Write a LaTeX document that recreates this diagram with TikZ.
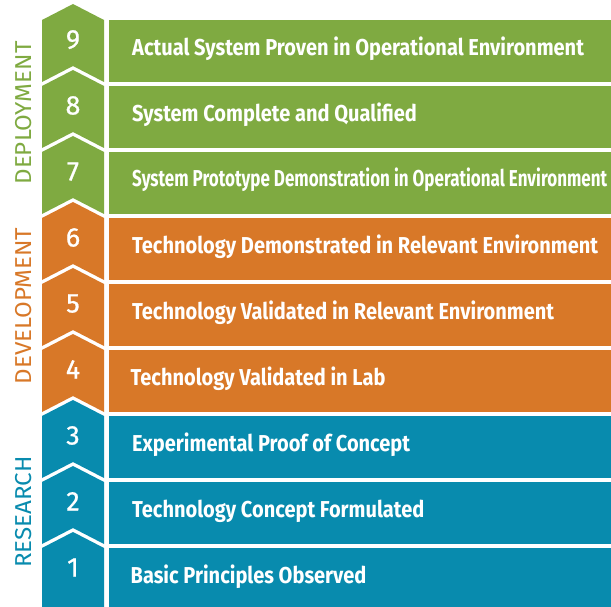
\documentclass[tikz,border=0pt]{standalone}
\usepackage{fontspec}
\setmainfont{Fira Sans}
\newfontfamily\rowfont{Fira Sans}[FakeStretch=0.87]
\newfontfamily\rownarrow{Fira Sans}[FakeStretch=0.74]
\newfontfamily\numfont{Fira Sans}[FakeBold=0.8]
\newfontfamily\phasefont{Fira Sans}[FakeStretch=1.05]
\usepackage{tikz}
\definecolor{colG}{RGB}{127,170,65}
\definecolor{colO}{RGB}{216,120,40}
\definecolor{colT}{RGB}{8,139,174}
\tikzstyle{level}=[draw=none, inner sep=0pt, minimum width=502pt, minimum height=62pt]
\tikzstyle{levelText}=[anchor=base west, inner sep=0pt, text=white, font=\rowfont\bfseries\fontsize{23}{23}\selectfont]
\tikzstyle{levelNum}=[anchor=base, inner sep=0pt, text=white, font=\numfont\fontsize{27}{27}\selectfont]
\tikzstyle{phase}=[rotate=90, inner sep=0pt, font=\phasefont\fontsize{23}{23}\selectfont]

\begin{document}
\begin{tikzpicture}[x=1pt, y=-1pt]
			\useasboundingbox (0,0) rectangle (611,607);

			%%% Chevron column
			\fill[colG] (42, 20) -- (73,  4) -- (104, 20) -- (104, 82) -- (73, 66) -- (42, 82) -- cycle;
			\fill[colG] (42, 86) -- (73, 70) -- (104, 86) -- (104,148) -- (73,132) -- (42,148) -- cycle;
			\fill[colG] (42,152) -- (73,136) -- (104,152) -- (104,214) -- (73,198) -- (42,214) -- cycle;
			\fill[colO] (42,218) -- (73,202) -- (104,218) -- (104,280) -- (73,264) -- (42,280) -- cycle;
			\fill[colO] (42,284) -- (73,268) -- (104,284) -- (104,346) -- (73,330) -- (42,346) -- cycle;
			\fill[colO] (42,350) -- (73,334) -- (104,350) -- (104,412) -- (73,396) -- (42,412) -- cycle;
			\fill[colT] (42,416) -- (73,400) -- (104,416) -- (104,478) -- (73,462) -- (42,478) -- cycle;
			\fill[colT] (42,482) -- (73,466) -- (104,482) -- (104,544) -- (73,528) -- (42,544) -- cycle;
			\fill[colT] (42,548) -- (73,532) -- (104,548) -- (104,607) -- (42,607) -- cycle;

			%%% Level bars
			\node[level, fill=colG] (b9) at (360, 51) {};
			\node[level, fill=colG] (b8) at (360,117) {};
			\node[level, fill=colG] (b7) at (360,183) {};
			\node[level, fill=colO] (b6) at (360,249) {};
			\node[level, fill=colO] (b5) at (360,315) {};
			\node[level, fill=colO] (b4) at (360,381) {};
			\node[level, fill=colT] (b3) at (360,447) {};
			\node[level, fill=colT] (b2) at (360,513) {};
			\node[level, fill=colT] (b1) at (360,579) {};

			%%% Numbers
			\node[levelNum] (n9) at (73, 48.5) {9};
			\node[levelNum] (n8) at (73,114.5) {8};
			\node[levelNum] (n7) at (73,180.5) {7};
			\node[levelNum] (n6) at (73,246.5) {6};
			\node[levelNum] (n5) at (73,312.5) {5};
			\node[levelNum] (n4) at (73,378.5) {4};
			\node[levelNum] (n3) at (73,444.5) {3};
			\node[levelNum] (n2) at (73,510.5) {2};
			\node[levelNum] (n1) at (73,576.5) {1};

			%%% Labels
			\node[levelText] (t9) at (132,  55.5) {Actual System Proven in Operational Environment};
			\node[levelText] (t8) at (132, 121.5) {System Complete and Qualified};
			\node[levelText, font=\rownarrow\bfseries\fontsize{23}{23}\selectfont] (t7) at (132, 187) {System Prototype Demonstration in Operational Environment};
			\node[levelText] (t6) at (132, 253.5) {Technology Demonstrated in Relevant Environment};
			\node[levelText] (t5) at (132, 319.5) {Technology Validated in Relevant Environment};
			\node[levelText] (t4) at (130.5, 385.5) {Technology Validated in Lab};
			\node[levelText] (t3) at (132, 451.5) {Experimental Proof of Concept};
			\node[levelText] (t2) at (132, 517.5) {Technology Concept Formulated};
			\node[levelText] (t1) at (130.5, 583.5) {Basic Principles Observed};

			%%% Phases
			\node[phase, text=colG] (deploy)   at (24, 113) {DEPLOYMENT};
			\node[phase, text=colO] (develop)  at (24, 306) {DEVELOPMENT};
			\node[phase, text=colT] (research) at (24, 512) {RESEARCH};
		\end{tikzpicture}
\end{document}
